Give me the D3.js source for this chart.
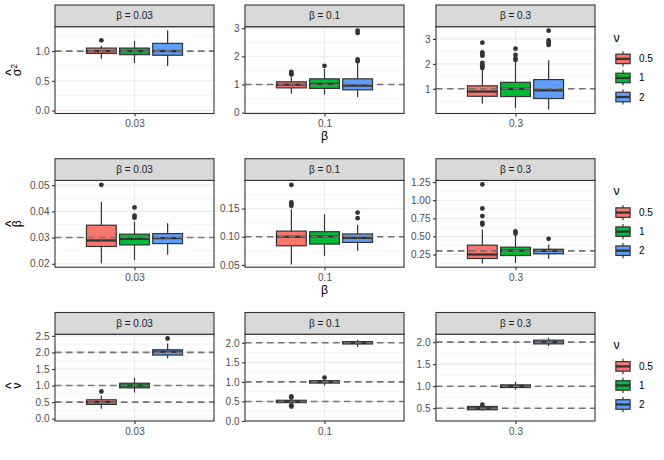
<!doctype html>
<html>
<head>
<meta charset="utf-8">
<script src="https://cdnjs.cloudflare.com/ajax/libs/d3/7.8.5/d3.min.js"></script>
<style>
  body { margin: 0; background: #fff; }
  text { font-family: "Liberation Sans", Arial, sans-serif; }
</style>
</head>
<body>
<svg width="664" height="460"></svg>
<script>
// categories
var betaLevels = ["0.03", "0.1", "0.3"];
var nuLevels = ["0.5", "1", "2"];
var nuColors = ["#F8766D", "#00BA38", "#619CFF"];

// box stats per panel (beta) per nu: [lower whisker, q1, median, q3, upper whisker]
var sigmaStats = [
  [[0.87, 0.96, 1.00, 1.05, 1.09], [0.80, 0.94, 1.00, 1.05, 1.17], [0.75, 0.93, 1.00, 1.13, 1.35]],
  [[0.67, 0.88, 0.99, 1.095, 1.26], [0.64, 0.86, 1.02, 1.20, 1.55], [0.55, 0.81, 0.96, 1.20, 1.75]],
  [[0.40, 0.70, 0.89, 1.12, 1.74], [0.22, 0.69, 1.00, 1.26, 2.06], [0.17, 0.61, 0.94, 1.37, 2.14]]
];
var sigmaOutliers = [
  [[1.18], [], []],
  [[1.35, 1.40, 1.45], [1.66], [1.82, 1.89, 2.83, 2.91]],
  [[1.83, 1.90, 1.97, 2.04, 2.33, 2.40, 2.46, 2.85], [2.15, 2.22, 2.36, 2.61], [2.76, 2.85, 2.94, 3.33]]
];
var betaStats = [
  [[0.0202, 0.0266, 0.0289, 0.0347, 0.0437], [0.0215, 0.0272, 0.0295, 0.0313, 0.0361], [0.0234, 0.0277, 0.0298, 0.0315, 0.0355]],
  [[0.051, 0.084, 0.100, 0.110, 0.149], [0.066, 0.087, 0.1005, 0.109, 0.140], [0.075, 0.090, 0.098, 0.105, 0.121]],
  [[0.126, 0.195, 0.25, 0.379, 0.595], [0.135, 0.236, 0.305, 0.351, 0.526], [0.19, 0.26, 0.30, 0.323, 0.388]]
];
var betaOutliers = [
  [[0.0501], [0.0376, 0.0384, 0.0415], []],
  [[0.155, 0.158, 0.161, 0.192], [], [0.133, 0.143]],
  [[0.664, 0.688, 0.78, 0.885, 1.217], [0.54, 0.57], [0.467]]
];
var nuStats = [
  [[0.30, 0.43, 0.50, 0.57, 0.70], [0.79, 0.93, 1.00, 1.07, 1.23], [1.82, 1.92, 2.02, 2.08, 2.27]],
  [[0.44, 0.47, 0.50, 0.53, 0.56], [0.91, 0.97, 1.00, 1.03, 1.06], [1.89, 1.97, 2.00, 2.03, 2.08]],
  [[0.44, 0.465, 0.50, 0.54, 0.56], [0.92, 0.97, 1.00, 1.03, 1.10], [1.91, 1.96, 2.00, 2.045, 2.10]]
];
var nuOutliers = [
  [[0.82], [], [2.42]],
  [[0.37, 0.40, 0.60, 0.63], [1.11], []],
  [[0.58], [], []]
];

// true values (dashed reference lines)
var sigmaTrue = [[1], [1], [1]];
var betaTrue = [[0.03], [0.1], [0.3]];
var nuTrue = [[0.5, 1, 2], [0.5, 1, 2], [0.5, 1, 2]];

// y scale limits
var sigmaDomains = [[-0.05, 1.41], [-0.03, 3.05], [0.01, 3.49]];
var betaDomains = [[0.0187, 0.0518], [0.046, 0.20], [0.075, 1.273]];
var nuDomains = [[-0.07, 2.55], [0.0, 2.22], [0.21, 2.18]];

// tick labels
var sigmaTicks = [["0.0", "0.5", "1.0"], ["0", "1", "2", "3"], ["1", "2", "3"]];
var betaTicks = [["0.02", "0.03", "0.04", "0.05"], ["0.05", "0.10", "0.15"], ["0.25", "0.50", "0.75", "1.00", "1.25"]];
var nuTicks = [["0.0", "0.5", "1.0", "1.5", "2.0", "2.5"], ["0.0", "0.5", "1.0", "1.5", "2.0"], ["0.5", "1.0", "1.5", "2.0"]];

var rows = [
  {stats: sigmaStats, outl: sigmaOutliers, truth: sigmaTrue, dom: sigmaDomains, ticks: sigmaTicks, letter: "σ", sup: "2", xTitle: true, titleY: 0},
  {stats: betaStats, outl: betaOutliers, truth: betaTrue, dom: betaDomains, ticks: betaTicks, letter: "β", sup: "", xTitle: true, titleY: 0},
  {stats: nuStats, outl: nuOutliers, truth: nuTrue, dom: nuDomains, ticks: nuTicks, letter: "ν", sup: "", xTitle: false, titleY: 8}
];

var colLeft = [55, 245, 436], panelW = 159;
var stripTop = [5, 158.7, 312.5], stripH = 21.7, panelH = 86.8;
var dark = "#333333", grid = "#ebebeb";
var smallFont = "10px", bigFont = "12.3px";

var svg = d3.select("svg");

function minorBreaks(b, dom) {
  var d = b.length > 1 ? b[1] - b[0] : 1;
  var ext = [b[0] - d].concat(b, [b[b.length - 1] + d]);
  var out = [];
  for (var i = 0; i < ext.length - 1; i++) {
    var m = (ext[i] + ext[i + 1]) / 2;
    if (m >= dom[0] && m <= dom[1]) out.push(m);
  }
  return out;
}

rows.forEach(function(row, r) {
  var top = stripTop[r] + stripH, bottom = top + panelH;

  betaLevels.forEach(function(b, c) {
    var left = colLeft[c];
    var x = d3.scalePoint().domain([b]).range([left, left + panelW]).padding(0.5);
    var dodge = d3.scaleBand().domain(nuLevels).range([-49.7, 49.7]).paddingInner(0.1).paddingOuter(0.05);
    var bw = dodge.bandwidth();
    var y = d3.scaleLinear().domain(row.dom[c]).range([bottom, top]);
    var tv = row.ticks[c].map(Number);

    var g = svg.append("g");
    g.append("rect").attr("x", left).attr("y", top).attr("width", panelW).attr("height", panelH).attr("fill", "#fff");

    g.selectAll(".minor").data(minorBreaks(tv, row.dom[c])).enter().append("line")
      .attr("x1", left).attr("x2", left + panelW)
      .attr("y1", d => y(d)).attr("y2", d => y(d))
      .attr("stroke", grid).attr("stroke-width", 0.55);
    g.selectAll(".major").data(tv).enter().append("line")
      .attr("x1", left).attr("x2", left + panelW)
      .attr("y1", d => y(d)).attr("y2", d => y(d))
      .attr("stroke", grid).attr("stroke-width", 1.1);
    g.append("line").attr("x1", x(b)).attr("x2", x(b)).attr("y1", top).attr("y2", bottom)
      .attr("stroke", grid).attr("stroke-width", 1.1);

    // boxes
    nuLevels.forEach(function(nu, i) {
      var s = row.stats[c][i];
      var cx = x(b) + dodge(nu) + bw / 2;
      var bg = g.append("g");
      bg.append("line").attr("x1", cx).attr("x2", cx).attr("y1", y(s[3])).attr("y2", y(s[4]))
        .attr("stroke", dark).attr("stroke-width", 1.2);
      bg.append("line").attr("x1", cx).attr("x2", cx).attr("y1", y(s[1])).attr("y2", y(s[0]))
        .attr("stroke", dark).attr("stroke-width", 1.2);
      bg.append("rect").attr("x", cx - bw / 2).attr("width", bw)
        .attr("y", y(s[3])).attr("height", y(s[1]) - y(s[3]))
        .attr("fill", nuColors[i]).attr("stroke", dark).attr("stroke-width", 1.2);
      bg.append("line").attr("x1", cx - bw / 2).attr("x2", cx + bw / 2).attr("y1", y(s[2])).attr("y2", y(s[2]))
        .attr("stroke", dark).attr("stroke-width", 2.3);
      bg.selectAll("circle").data(row.outl[c][i]).enter().append("circle")
        .attr("cx", cx).attr("cy", d => y(d)).attr("r", 2.4).attr("fill", dark);
    });

    // true value lines
    g.selectAll(".truth").data(row.truth[c]).enter().append("line")
      .attr("x1", left).attr("x2", left + panelW)
      .attr("y1", d => y(d)).attr("y2", d => y(d))
      .attr("stroke", "#737373").attr("stroke-width", 1.6).attr("stroke-dasharray", "6.5,4.5");

    g.append("rect").attr("x", left).attr("y", top).attr("width", panelW).attr("height", panelH)
      .attr("fill", "none").attr("stroke", dark).attr("stroke-width", 1.1);

    // strip
    g.append("rect").attr("x", left).attr("y", stripTop[r]).attr("width", panelW).attr("height", stripH)
      .attr("fill", "#d9d9d9").attr("stroke", dark).attr("stroke-width", 1.1);
    g.append("text").attr("x", left + panelW / 2).attr("y", stripTop[r] + stripH / 2).attr("dy", "0.35em")
      .attr("text-anchor", "middle").attr("font-size", smallFont).attr("fill", "#1a1a1a")
      .text("β = " + b);

    // axes
    var ya = g.append("g").attr("transform", "translate(" + left + ",0)")
      .call(d3.axisLeft(y).tickValues(tv).tickFormat((d, k) => row.ticks[c][k]).tickSizeOuter(0).tickSize(3).tickPadding(2.5));
    var xa = g.append("g").attr("transform", "translate(0," + bottom + ")")
      .call(d3.axisBottom(x).tickSizeOuter(0).tickSize(3).tickPadding(3.5));
    [ya, xa].forEach(function(a) {
      a.select(".domain").remove();
      a.selectAll("line").attr("stroke", dark).attr("stroke-width", 1.1);
      a.selectAll("text").attr("fill", "#4d4d4d").attr("font-size", smallFont)
        .attr("font-family", "Liberation Sans, Arial, sans-serif");
    });
  });

  // y axis title with hat
  var cy = (top + bottom) / 2 + row.titleY;
  var tg = svg.append("g").attr("transform", "translate(21," + cy + ") rotate(-90)");
  var t = tg.append("text").attr("text-anchor", "middle").attr("font-size", bigFont).attr("fill", "#000");
  t.append("tspan").text(row.letter);
  if (row.sup) t.append("tspan").attr("dy", "-0.45em").attr("font-size", "8.6px").text(row.sup);
  var box = t.node().getExtentOfChar(0);
  tg.append("text").attr("x", box.x + box.width / 2).attr("y", -5.5)
    .attr("text-anchor", "middle").attr("font-size", "14px").attr("fill", "#000").text("^");

  if (row.xTitle) {
    svg.append("text").attr("x", colLeft[1] + panelW / 2).attr("y", bottom + 26.5)
      .attr("text-anchor", "middle").attr("font-size", bigFont).attr("fill", "#000").text("β");
  }

  // legend
  var lg = svg.append("g").attr("transform", "translate(613.5," + top + ")");
  lg.append("text").attr("x", 0).attr("y", 15).attr("font-size", bigFont).attr("fill", "#000").text("ν");
  var key = 19;
  nuLevels.forEach(function(nu, i) {
    var ky = 22.7 + i * 19.05;
    var k = lg.append("g").attr("transform", "translate(0," + ky + ")");
    k.append("rect").attr("width", key).attr("height", key).attr("fill", "#fff");
    k.append("line").attr("x1", key / 2).attr("x2", key / 2).attr("y1", key * 0.1).attr("y2", key * 0.9)
      .attr("stroke", dark).attr("stroke-width", 1.2);
    k.append("rect").attr("x", key * 0.125).attr("y", key * 0.25).attr("width", key * 0.75).attr("height", key * 0.5)
      .attr("fill", nuColors[i]).attr("stroke", dark).attr("stroke-width", 1.2);
    k.append("line").attr("x1", key * 0.125).attr("x2", key * 0.875).attr("y1", key / 2).attr("y2", key / 2)
      .attr("stroke", dark).attr("stroke-width", 2.3);
    k.append("text").attr("x", 25.5).attr("y", key / 2).attr("dy", "0.35em")
      .attr("font-size", smallFont).attr("fill", "#000").text(nu);
  });
});
</script>
</body>
</html>
